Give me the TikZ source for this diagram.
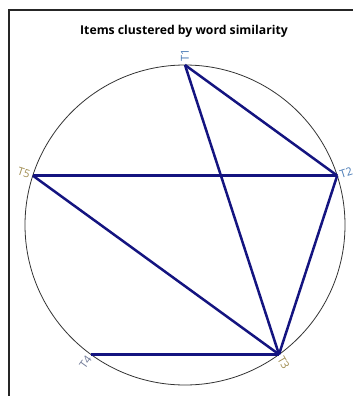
\documentclass[tikz,border=0pt]{standalone}
\usepackage{fontspec}
\setmainfont{Open Sans}
\begin{document}
\begin{tikzpicture}[x=1pt,y=-1pt,
  edge/.style={draw={rgb,255:red,20;green,20;blue,128},line width=2.5pt},
  lbl/.style={font=\fontsize{11}{12}\selectfont,inner sep=3pt},
  frame/.style={draw=black!85,line width=1.3pt}]
\definecolor{tblue}{RGB}{70,120,180}
\definecolor{tgold}{RGB}{160,140,80}
\definecolor{tgrey}{RGB}{110,120,150}
\useasboundingbox (0,0) rectangle (353,396);
\draw[frame] (353,10) -- (9,10) -- (9,396);
\node[font=\bfseries\fontsize{12.2}{14}\selectfont] (title) at (184,31) {Items clustered by word similarity};
\coordinate (c) at (185,225);
\draw[black!80,line width=0.8pt] (c) circle [radius=160];
\coordinate (t1) at (185,65);
\coordinate (t2) at (337.2,175.6);
\coordinate (t3) at (279.0,354.4);
\coordinate (t4) at (91.0,354.4);
\coordinate (t5) at (32.8,175.6);
\node[lbl,text=tblue,anchor=west,rotate=90] (l1) at (t1) {T1};
\node[lbl,text=tblue,anchor=west,rotate=18] (l2) at (t2) {T2};
\node[lbl,text=tgold,anchor=west,rotate=-60] (l3) at (t3) {T3};
\node[lbl,text=tgrey,anchor=east,rotate=54] (l4) at (t4) {T4};
\node[lbl,text=tgold,anchor=east,rotate=-18] (l5) at (t5) {T5};
\draw[edge] (t1) -- (t2);
\draw[edge] (t1) -- (t3);
\draw[edge] (t5) -- (t2);
\draw[edge] (t2) -- (t3);
\draw[edge] (t5) -- (t3);
\draw[edge] (t4) -- (t3);
\end{tikzpicture}
\end{document}
